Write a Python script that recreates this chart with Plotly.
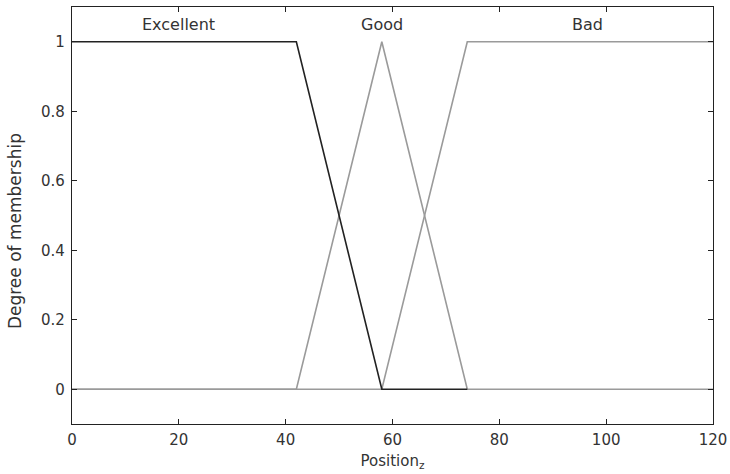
import plotly.graph_objects as go

# Membership function breakpoints
excellent_x = [0, 42, 58, 74]
excellent_y = [1, 1, 0, 0]
good_x = [0, 42, 58, 74, 120]
good_y = [0, 0, 1, 0, 0]
bad_x = [0, 58, 74, 120]
bad_y = [0, 0, 1, 1]

labels = ["Excellent", "Good", "Bad"]
label_x = [20, 58, 96.5]
label_y = [1.05, 1.05, 1.05]

xticks = [0, 20, 40, 60, 80, 100, 120]
yticks = [0, 0.2, 0.4, 0.6, 0.8, 1]
ytick_text = ["0", "0.2", "0.4", "0.6", "0.8", "1"]

FONT = "DejaVu Sans, Liberation Sans, Arial"
gray = "#9a9a9a"
fig = go.Figure()
fig.add_trace(go.Scatter(x=good_x, y=good_y, mode="lines", line=dict(color=gray, width=1.6), showlegend=False))
fig.add_trace(go.Scatter(x=bad_x, y=bad_y, mode="lines", line=dict(color=gray, width=1.6), showlegend=False))
fig.add_trace(go.Scatter(x=excellent_x, y=excellent_y, mode="lines", line=dict(color="#222222", width=1.6), showlegend=False))

for t, x, y in zip(labels, label_x, label_y):
    fig.add_annotation(x=x, y=y, text=t, showarrow=False, xref="x", yref="y",
                       font=dict(family=FONT, size=16, color="#333"))

# y-axis title (placed as in the reference, slightly below axis centre)
fig.add_annotation(x=-0.089, y=0.455, xref="paper", yref="y", text="Degree of membership",
                   textangle=-90, showarrow=False, xanchor="center", yanchor="middle",
                   font=dict(family=FONT, size=17, color="#333"))

axis_common = dict(showgrid=False, zeroline=False, showline=True, linecolor="#222", linewidth=1.2,
                   mirror="ticks", ticks="inside", ticklen=5, tickcolor="#222", automargin=False,
                   tickfont=dict(family=FONT, size=15, color="#333"))

fig.update_xaxes(range=[0, 120], tickvals=xticks, ticklabelstandoff=2, **axis_common,
                 title=dict(text="Position<sub>z</sub>", standoff=7,
                            font=dict(family=FONT, size=15, color="#333")))
fig.update_yaxes(range=[-0.1, 1.1], tickvals=yticks, ticktext=ytick_text, ticklabelstandoff=3,
                 **axis_common)

fig.update_layout(width=730, height=474, margin=dict(l=72, r=17, t=7, b=50),
                  plot_bgcolor="white", paper_bgcolor="white")

fig.write_html("out.html", config={"displayModeBar": False},
               post_script="document.body.style.margin='0';document.body.style.overflow='hidden';")
